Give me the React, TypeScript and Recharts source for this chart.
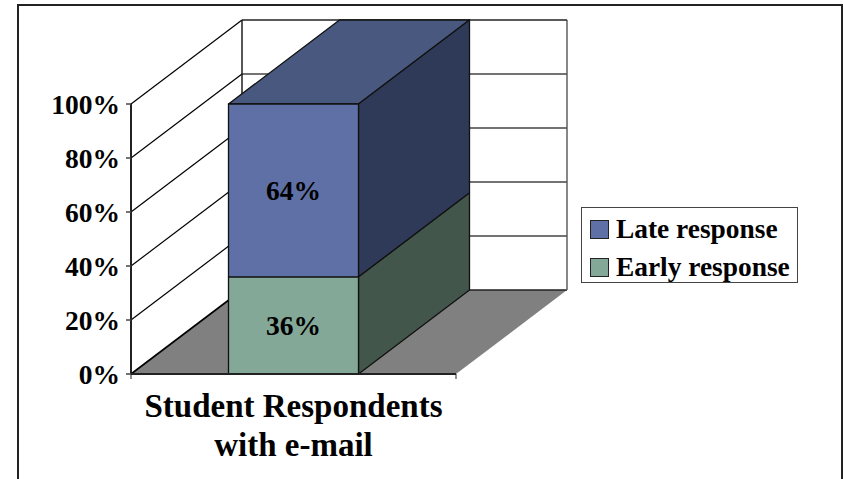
import { BarChart, Bar, XAxis, YAxis, CartesianGrid, Legend, LabelList } from 'recharts';

const categories = ['Student Respondents with e-mail'];
const earlyResponse = [36];
const lateResponse = [64];
const yTicks = [0, 20, 40, 60, 80, 100];
const xLabelLines = ['Student Respondents', 'with e-mail'];

const data = categories.map((name, i) => ({
  name,
  early: earlyResponse[i],
  late: lateResponse[i],
}));

const FONT = '"Liberation Serif", "Times New Roman", serif';

// plot box of the front plane, and how far the back wall is pushed away from it
const PLOT = { left: 131, right: 456, top: 104, bottom: 374 };
const DEPTH_X = 111;
const DEPTH_Y = -84;

const COLORS = {
  late: { front: '#5f70a6', side: '#2f3a58', top: '#48587f' },
  early: { front: '#84a898', side: '#43564c', top: '#84a898' },
};

const labelStyle = { fontFamily: FONT, fontWeight: 'bold', fontSize: 27.5, fill: '#000' };

// one gridline wrapping around the side wall and back wall; the 0% one also lays the floor
function WallLine(props: any) {
  const { x1, x2, y1 } = props;
  const bx1 = x1 + DEPTH_X;
  const bx2 = x2 + DEPTH_X;
  const by = y1 + DEPTH_Y;
  const isFloor = Math.abs(y1 - PLOT.bottom) < 1;
  const isTop = Math.abs(y1 - PLOT.top) < 1;
  return (
    <g key={props.key ?? y1}>
      {isFloor && (
        <polygon
          points={`${x1},${y1} ${x2},${y1} ${bx2},${by} ${bx1},${by}`}
          fill="#808080"
          stroke="none"
        />
      )}
      {isTop && (
        <>
          <line x1={bx1} y1={by} x2={bx1} y2={PLOT.bottom + DEPTH_Y} stroke="#111" strokeWidth={1.4} />
          <line x1={bx2} y1={by} x2={bx2} y2={PLOT.bottom + DEPTH_Y} stroke="#555" strokeWidth={1.4} />
        </>
      )}
      <line x1={x1} y1={y1} x2={bx1} y2={by} stroke="#000" strokeWidth={isFloor ? 1.6 : 1.2} />
      <line x1={bx1} y1={by} x2={bx2} y2={by} stroke={isFloor || isTop ? '#222' : '#444'} strokeWidth={1.4} />
    </g>
  );
}

// stacked segment drawn as a box: front face, right side, and optional lid
function BoxSegment(props: any, palette: typeof COLORS.late, withTop: boolean) {
  const { x, y, width, height } = props;
  const r = x + width;
  const b = y + height;
  return (
    <g stroke="#111" strokeWidth={1.3} strokeLinejoin="round">
      {withTop && (
        <polygon
          points={`${x},${y} ${r},${y} ${r + DEPTH_X},${y + DEPTH_Y} ${x + DEPTH_X},${y + DEPTH_Y}`}
          fill={palette.top}
        />
      )}
      <polygon
        points={`${r},${y} ${r + DEPTH_X},${y + DEPTH_Y} ${r + DEPTH_X},${b + DEPTH_Y} ${r},${b}`}
        fill={palette.side}
      />
      <rect x={x} y={y} width={width} height={height} fill={palette.front} />
    </g>
  );
}

function CategoryTick({ x }: any) {
  return (
    <g>
      <line x1={PLOT.left} y1={PLOT.bottom} x2={PLOT.left} y2={PLOT.bottom + 5} stroke="#222" />
      <line x1={PLOT.right} y1={PLOT.bottom} x2={PLOT.right} y2={PLOT.bottom + 5} stroke="#222" />
      <text x={x} textAnchor="middle" fontFamily={FONT} fontWeight="bold" fontSize={33} fill="#000">
        {xLabelLines.map((line, i) => (
          <tspan key={line} x={x} y={417 + i * 38.5}>
            {line}
          </tspan>
        ))}
      </text>
    </g>
  );
}

function LegendBox({ payload }: any) {
  const rows = [...(payload ?? [])].reverse();
  return (
    <div
      style={{
        boxSizing: 'border-box',
        width: 217,
        height: 76,
        border: '1px solid #444',
        background: '#fff',
        padding: '2px 0 0 8px',
        fontFamily: FONT,
        fontWeight: 'bold',
        fontSize: 27.4,
        color: '#000',
      }}
    >
      {rows.map((entry: any) => (
        <div key={entry.value} style={{ display: 'flex', alignItems: 'center', height: 38 }}>
          <span
            style={{
              boxSizing: 'border-box',
              width: 19,
              height: 19,
              border: '1px solid #222',
              background: entry.color,
              marginRight: 7,
            }}
          />
          <span style={{ whiteSpace: 'nowrap' }}>{entry.value}</span>
        </div>
      ))}
    </div>
  );
}

export default function App() {
  return (
    <div
      style={{
        position: 'absolute',
        left: 0,
        top: 0,
        width: 843,
        height: 479,
        overflow: 'hidden',
        background: '#fff',
      }}
    >
      <div
        style={{
          position: 'absolute',
          left: 17,
          top: 4,
          width: 822,
          height: 520,
          border: '2px solid #222',
        }}
      />
      <BarChart
        width={843}
        height={479}
        data={data}
        barCategoryGap="30%"
        margin={{ top: PLOT.top, right: 843 - PLOT.right, bottom: 0, left: 0 }}
        style={{ position: 'absolute', left: 0, top: 0 }}
      >
        <CartesianGrid horizontal={WallLine} vertical={false} />
        <XAxis
          dataKey="name"
          height={479 - PLOT.bottom}
          tick={<CategoryTick />}
          tickLine={false}
          axisLine={{ stroke: '#222', strokeWidth: 2 }}
          interval={0}
        />
        <YAxis
          width={PLOT.left}
          domain={[0, 100]}
          ticks={yTicks}
          tickFormatter={(v: number) => `${v}%`}
          tick={labelStyle}
          tickSize={5}
          tickMargin={6}
          tickLine={{ stroke: '#444', strokeWidth: 1.5 }}
          axisLine={{ stroke: '#222', strokeWidth: 2 }}
        />
        {/* centred + vertical keeps the legend from taking room away from the plot */}
        <Legend
          layout="vertical"
          align="center"
          verticalAlign="middle"
          content={<LegendBox />}
          wrapperStyle={{ position: 'absolute', left: 581, top: 207, width: 217, height: 76 }}
        />
        <Bar
          dataKey="early"
          name="Early response"
          stackId="response"
          fill={COLORS.early.front}
          isAnimationActive={false}
          shape={(p: any) => BoxSegment(p, COLORS.early, false)}
        >
          <LabelList dataKey="early" position="center" formatter={(v: number) => `${v}%`} style={labelStyle} />
        </Bar>
        <Bar
          dataKey="late"
          name="Late response"
          stackId="response"
          fill={COLORS.late.front}
          isAnimationActive={false}
          shape={(p: any) => BoxSegment(p, COLORS.late, true)}
        >
          <LabelList dataKey="late" position="center" formatter={(v: number) => `${v}%`} style={labelStyle} />
        </Bar>
      </BarChart>
    </div>
  );
}
